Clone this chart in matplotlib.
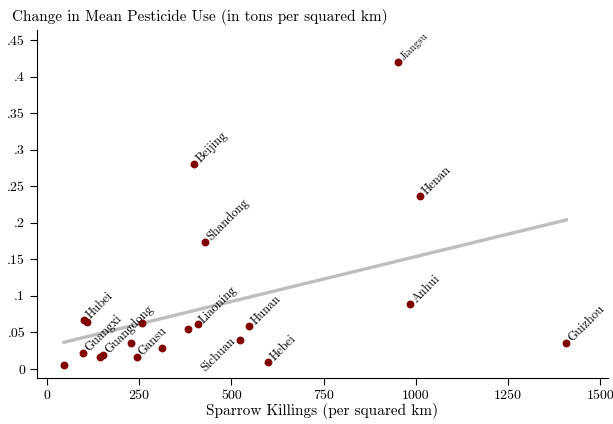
import numpy as np
import matplotlib.pyplot as plt

plt.rcParams['font.family'] = ['cmr10', 'DejaVu Serif']
plt.rcParams['axes.formatter.use_mathtext'] = True

provinces = ["", "Hubei", "", "Guangxi", "", "Guangdong", "", "", "Gansu", "",
             "", "Liaoning", "Sichuan", "Hunan", "Hebei", "Beijing", "Shandong",
             "Jiangsu", "Henan", "Anhui", "Guizhou"]
sparrows = [46, 101, 108, 98, 144, 153, 228, 257, 243, 313,
            382, 409, 522, 549, 600, 399, 428, 952, 1012, 985, 1408]
pesticide = [0.005, 0.067, 0.064, 0.022, 0.016, 0.019, 0.036, 0.0625, 0.016, 0.029,
             0.055, 0.061, 0.039, 0.059, 0.0096, 0.280, 0.174, 0.420, 0.237, 0.089, 0.036]

xticks = [0, 250, 500, 750, 1000, 1250, 1500]
yticks = [0, 0.05, 0.1, 0.15, 0.2, 0.25, 0.3, 0.35, 0.4, 0.45]
ylabels = ["0", ".05", ".1", ".15", ".2", ".25", ".3", ".35", ".4", ".45"]

fig = plt.figure(figsize=(6.13, 4.24), dpi=100)
ax = fig.add_axes([37/613, 1 - 378/424, 571/613, 348/424])

# linear fit
b, a = np.polyfit(sparrows, pesticide, 1)
xs = np.array([min(sparrows), max(sparrows)])
ax.plot(xs, a + b * xs, color="#bebebe", lw=2.4, zorder=1)

ax.scatter(sparrows, pesticide, s=32, color="#800000", zorder=2, linewidths=0)

for name, x, y in zip(provinces, sparrows, pesticide):
    if name == "":
        continue
    fs = 7.5 if name == "Jiangsu" else 9
    if name == "Sichuan":
        ax.annotate(name, (x, y), xytext=(-5, 2), textcoords="offset points",
                    rotation=45, fontsize=fs, ha="right", va="center_baseline",
                    rotation_mode="anchor")
    else:
        ax.annotate(name, (x, y), xytext=(2, 3), textcoords="offset points",
                    rotation=45, fontsize=fs, ha="left", va="center_baseline",
                    rotation_mode="anchor")

ax.set_xlim(-27, 1521)
ax.set_ylim(-0.0123, 0.4637)
ax.set_xticks(xticks)
ax.set_xticklabels([str(t) for t in xticks])
ax.set_yticks(yticks)
ax.set_yticklabels(ylabels)
ax.tick_params(labelsize=10, length=5)
ax.spines["top"].set_visible(False)
ax.spines["right"].set_visible(False)
ax.set_xlabel("Sparrow Killings (per squared km)", fontsize=11, labelpad=1)
fig.text(12/613, 1 - 17/424, "Change in Mean Pesticide Use (in tons per squared km)",
         fontsize=11, ha="left", va="center")

fig.savefig("out.png", dpi=100)
